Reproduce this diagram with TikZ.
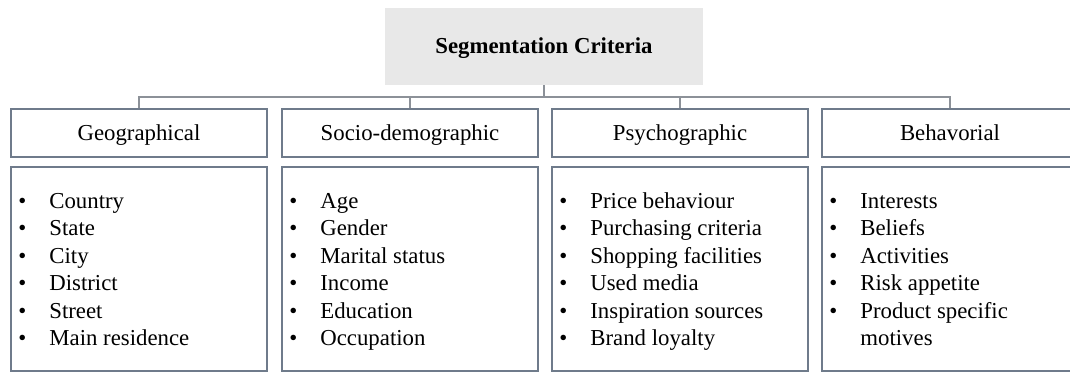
\documentclass[tikz,border=0pt]{standalone}
\usepackage{fontspec}
\setmainfont{Liberation Serif}
\definecolor{boxline}{HTML}{6F7B8B}
\definecolor{linkline}{HTML}{8C9198}
\definecolor{topfill}{HTML}{E8E8E8}
\begin{document}
\begin{tikzpicture}[x=0.5pt,y=-0.5pt,
  txt/.style={font=\fontsize{11.4pt}{13.75pt}\selectfont},
  headtxt/.style={font=\fontsize{11.4pt}{13.75pt}\selectfont\bfseries},
  rootbox/.style={fill=topfill, minimum width=159pt, minimum height=38.5pt, inner sep=0pt, headtxt, text height=8pt, text depth=1pt},
  catbox/.style={draw=boxline, line width=0.75pt, minimum width=128pt, minimum height=24pt, inner sep=0pt, txt, text height=8pt, text depth=1pt},
  listbox/.style={draw=boxline, line width=0.75pt, minimum width=128pt, minimum height=102pt, inner sep=0pt},
  item/.style={anchor=base west, inner sep=0pt, txt},
  link/.style={draw=linkline, line width=0.6pt}]
\useasboundingbox (0,0) rectangle (1070,372);
\begin{scope}
\clip (0,0) rectangle (1070,372);

% root
\node[rootbox] (root) at (544,46.5) {Segmentation Criteria};

% category headers
\node[catbox] (c1) at (139,133) {Geographical};
\node[catbox] (c2) at (410,133) {Socio-demographic};
\node[catbox] (c3) at (680,133) {Psychographic};
\node[catbox] (c4) at (950,133) {Behavorial};

% list boxes
\node[listbox] (l1) at (139,269) {};
\node[listbox] (l2) at (410,269) {};
\node[listbox] (l3) at (680,269) {};
\node[listbox] (l4) at (950,269) {};

% connectors
\coordinate (bus) at (544,97);
\draw[link] (root.south) -- (bus);
\draw[link] (c1.north) |- (bus) -| (c4.north);
\draw[link] (c2.north) -- (c2.north |- bus);
\draw[link] (c3.north) -- (c3.north |- bus);

% bullet items
\newcommand{\bul}[1]{\makebox[15.5pt][l]{\textbullet}#1}
\foreach \t [count=\i from 0] in {Country,State,City,District,Street,Main residence}
  \node[item] (ga\i) at (18,208+27.5*\i) {\bul{\t}};
\foreach \t [count=\i from 0] in {Age,Gender,Marital status,Income,Education,Occupation}
  \node[item] (gb\i) at (289,208+27.5*\i) {\bul{\t}};
\foreach \t [count=\i from 0] in {Price behaviour,Purchasing criteria,Shopping facilities,Used media,Inspiration sources,Brand loyalty}
  \node[item] (gc\i) at (559,208+27.5*\i) {\bul{\t}};
\foreach \t [count=\i from 0] in {Interests,Beliefs,Activities,Risk appetite,Product specific}
  \node[item] (gd\i) at (829,208+27.5*\i) {\bul{\t}};
\node[item] (gd5) at (829,345.5) {\hspace*{15.5pt}motives};
\end{scope}
\end{tikzpicture}
\end{document}
